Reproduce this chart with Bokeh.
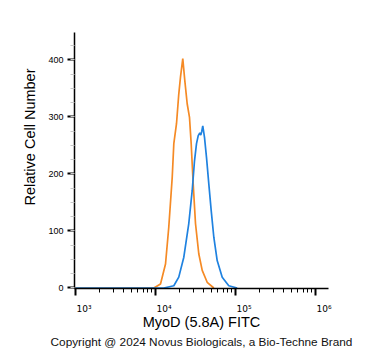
import math
from bokeh.plotting import figure
from bokeh.models import FixedTicker, Range1d, Title, LogAxis, CustomJSTickFormatter
from bokeh.embed import file_html
from bokeh.resources import INLINE

# ---- data ----
fitc_isotype = [1000, 9530, 11550, 13340, 14660, 16180, 16940, 18300, 19540, 20540,
                21930, 23230, 24890, 26610, 27930, 29580, 31620, 34750, 38370, 44260, 53580]
count_isotype = [0, 0, 7, 42, 107, 194, 253, 288, 340, 370,
                 402, 364, 323, 299, 253, 183, 113, 60, 31, 10, 0]

fitc_myod = [1000, 12700, 16940, 19540, 22590, 26060, 28770, 30730, 32550, 34200,
             35810, 36810, 37800, 38990, 40980, 43400, 46350, 49660, 53580, 59020,
             68230, 82410, 104950]
count_myod = [0, 0, 4, 19, 54, 113, 171, 223, 253, 267,
              272, 268, 274, 284, 264, 229, 183, 136, 89, 48,
              19, 4, 0]

x_major_ticks = [1000, 10000, 100000, 1000000]
x_tick_labels = ["10\u00b3", "10\u2074", "10\u2075", "10\u2076"]
y_major_ticks = [0, 100, 200, 300, 400]

LOG_START, LOG_END = 2.9875, 6.1625
X_START, X_END = 10 ** LOG_START, 10 ** LOG_END
Y_START, Y_END = -0.9, 447.9
LABEL_SHIFT = 0.106   # tick labels sit a little right of their ticks (in decades)

FONT = "Liberation Sans"

p = figure(width=371, height=351, x_axis_type="log",
           x_range=Range1d(X_START, X_END), y_range=Range1d(Y_START, Y_END),
           output_backend="svg", toolbar_location=None,
           min_border_left=74, min_border_right=43,
           min_border_top=32, min_border_bottom=63)
p.extra_x_ranges = {"lbl": Range1d(10 ** (LOG_START - LABEL_SHIFT), 10 ** (LOG_END - LABEL_SHIFT))}

p.outline_line_color = None
p.xgrid.grid_line_color = None
p.ygrid.grid_line_color = None
p.background_fill_color = "white"
p.border_fill_color = "white"

p.line(fitc_isotype, count_isotype, line_color="#F58A25", line_width=1.7)
p.line(fitc_myod, count_myod, line_color="#1F82E0", line_width=1.7)

# y axis
p.yaxis.ticker = FixedTicker(ticks=y_major_ticks, minor_ticks=list(range(0, 450, 25)))
p.yaxis.axis_line_width = 1.5
p.yaxis.axis_line_color = "black"
p.yaxis.major_tick_line_width = 2
p.yaxis.major_tick_out = 7
p.yaxis.major_tick_in = 0
p.yaxis.minor_tick_out = 4
p.yaxis.minor_tick_in = 0
p.yaxis.minor_tick_line_color = "#c8c8c8"
p.yaxis.major_label_text_font = FONT
p.yaxis.major_label_text_font_size = "9px"
p.yaxis.major_label_text_color = "black"
p.yaxis.major_label_standoff = 4

p.add_layout(Title(text="Relative Cell Number", align="right", offset=36,
                   vertical_align="top",
                   text_font=FONT, text_font_size="14.5px", text_font_style="normal",
                   text_color="black", standoff=12), "left")

# x axis: ticks at true positions, no labels
minor_x = [m * 10 ** e for e in (3, 4, 5) for m in range(2, 10)]
xa = p.xaxis[0]
xa.ticker = FixedTicker(ticks=x_major_ticks, minor_ticks=minor_x)
xa.formatter = CustomJSTickFormatter(code="return ''")
xa.major_label_text_font_size = "0px"
xa.major_label_standoff = 0
xa.axis_line_width = 1.5
xa.axis_line_color = "black"
xa.major_tick_line_width = 2
xa.major_tick_out = 7
xa.major_tick_in = 0
xa.minor_tick_out = 4
xa.minor_tick_in = 0
xa.minor_tick_line_color = "black"

# second axis carrying the tick labels and the axis title
xl = LogAxis(x_range_name="lbl", ticker=FixedTicker(ticks=x_major_ticks, minor_ticks=[]))
xl.major_label_overrides = {v: t for v, t in zip(x_major_ticks, x_tick_labels)}
xl.axis_line_color = None
xl.major_tick_line_color = None
xl.minor_tick_line_color = None
xl.major_tick_out = 0
xl.major_tick_in = 0
xl.minor_tick_out = 0
xl.minor_tick_in = 0
xl.major_label_text_font = "DejaVu Sans"
xl.major_label_text_font_size = "9px"
xl.major_label_text_color = "black"
xl.major_label_standoff = 8
xl.axis_label = "MyoD (5.8A) FITC"
xl.axis_label_text_font = FONT
xl.axis_label_text_font_size = "14.5px"
xl.axis_label_text_font_style = "normal"
xl.axis_label_text_color = "black"
xl.axis_label_standoff = -3
p.add_layout(xl, "below")

# third axis only carrying the copyright line
xc = LogAxis(ticker=FixedTicker(ticks=[], minor_ticks=[]))
xc.axis_line_color = None
xc.major_tick_line_color = None
xc.minor_tick_line_color = None
xc.major_tick_out = 0
xc.major_tick_in = 0
xc.minor_tick_out = 0
xc.minor_tick_in = 0
xc.major_label_standoff = 0
xc.axis_label = "Copyright @ 2024 Novus Biologicals, a Bio-Techne Brand"
xc.axis_label_text_font = FONT
xc.axis_label_text_font_size = "11.8px"
xc.axis_label_text_font_style = "normal"
xc.axis_label_text_color = "#111111"
xc.axis_label_standoff = 2
p.add_layout(xc, "below")

open("out.html", "w").write(file_html(p, INLINE))
